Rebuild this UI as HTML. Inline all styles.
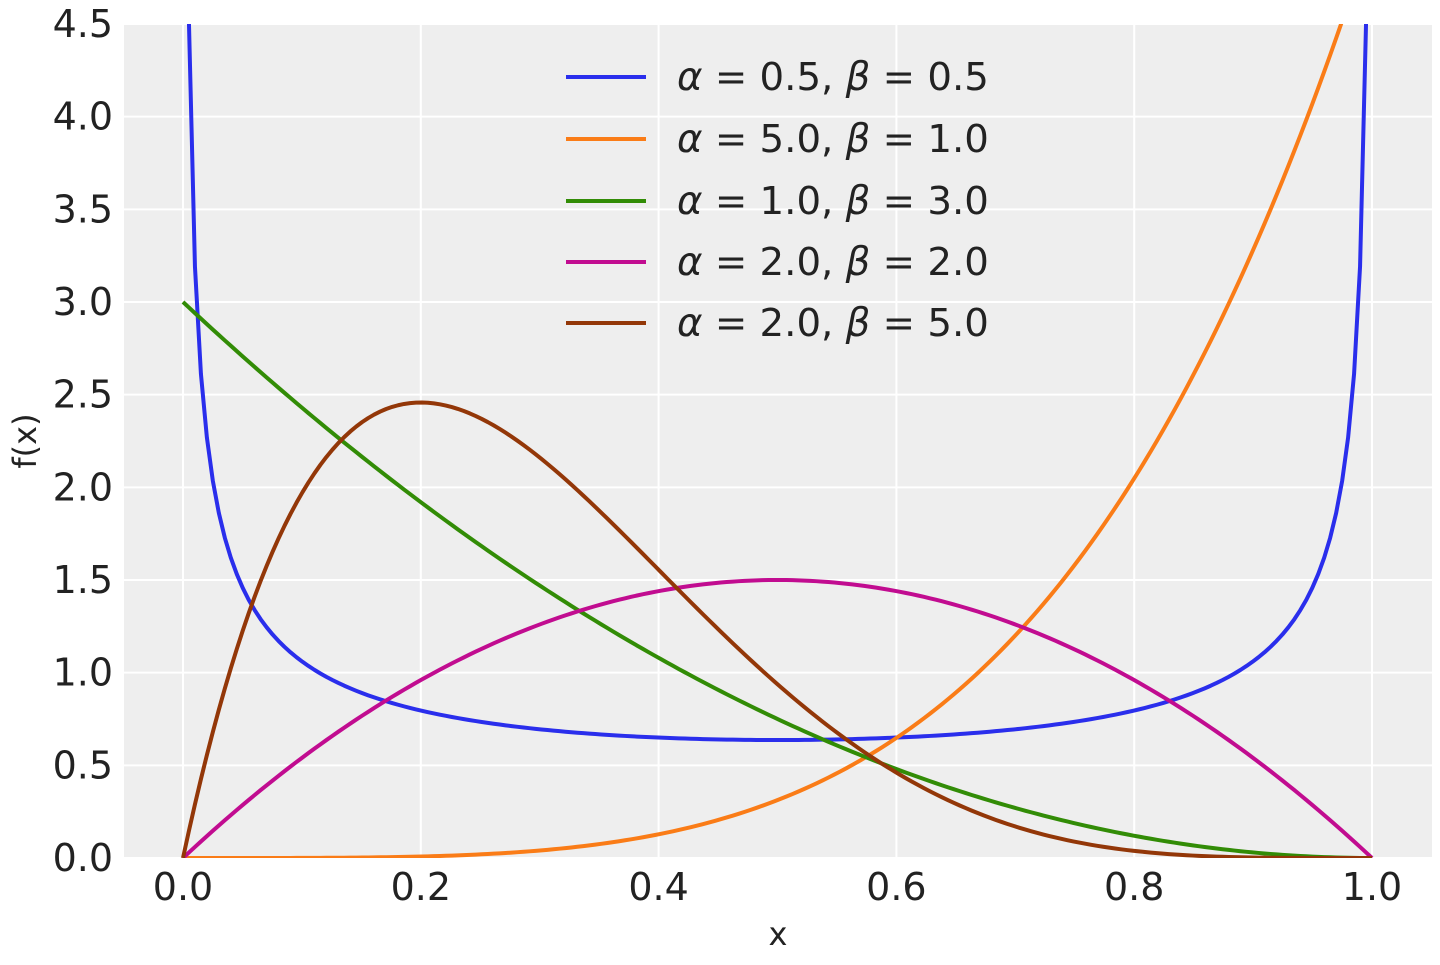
<!DOCTYPE html>
<html><head><meta charset="utf-8"><style>
body{margin:0;background:#fff;width:1440px;height:960px;overflow:hidden;font-family:"Liberation Sans","DejaVu Sans",sans-serif;}
svg text{font-family:"DejaVu Sans","Liberation Sans",sans-serif;fill:#222;}
</style></head><body>
<svg id="s" width="1440" height="960" xmlns="http://www.w3.org/2000/svg">
<defs><clipPath id="c"><rect x="124" y="24" width="1308" height="834"/></clipPath></defs>
<rect x="124" y="24" width="1308" height="834" fill="#eeeeee"/>
<g id="grid" stroke="#fff" stroke-width="2"></g>
<g id="ticks" font-size="38"></g>
<g id="lines" clip-path="url(#c)" fill="none" stroke-width="4" stroke-linejoin="round"></g>
<text x="778" y="945" font-size="32" text-anchor="middle">x</text>
<text transform="translate(36,441) rotate(-90)" font-size="32" text-anchor="middle">f(x)</text>
<g font-size="38.7">
<line x1="566" y1="77" x2="646" y2="77" stroke="#2a2eec" stroke-width="4"/>
<text x="677" y="90"><tspan font-style="italic">α</tspan> = 0.5, <tspan font-style="italic">β</tspan> = 0.5</text>
<line x1="566" y1="139" x2="646" y2="139" stroke="#fa7c17" stroke-width="4"/>
<text x="677" y="152"><tspan font-style="italic">α</tspan> = 5.0, <tspan font-style="italic">β</tspan> = 1.0</text>
<line x1="566" y1="201" x2="646" y2="201" stroke="#328c06" stroke-width="4"/>
<text x="677" y="214"><tspan font-style="italic">α</tspan> = 1.0, <tspan font-style="italic">β</tspan> = 3.0</text>
<line x1="566" y1="262" x2="646" y2="262" stroke="#c10c90" stroke-width="4"/>
<text x="677" y="275"><tspan font-style="italic">α</tspan> = 2.0, <tspan font-style="italic">β</tspan> = 2.0</text>
<line x1="566" y1="323" x2="646" y2="323" stroke="#933708" stroke-width="4"/>
<text x="677" y="336"><tspan font-style="italic">α</tspan> = 2.0, <tspan font-style="italic">β</tspan> = 5.0</text>
</g>
</svg>
<script>
var NS="http://www.w3.org/2000/svg";
function X(v){return 183+v*1189;}
function Y(v){return 858-v*(834/4.5);}
function el(t,a,p,txt){var e=document.createElementNS(NS,t);for(var k in a)e.setAttribute(k,a[k]);if(txt)e.textContent=txt;document.getElementById(p).appendChild(e);}
for(var i=0;i<=5;i++){var v=i*0.2,x=X(v);el("line",{x1:x,x2:x,y1:24,y2:858},"grid");el("text",{x:x,y:900,"text-anchor":"middle"},"ticks",v.toFixed(1));}
for(var i=0;i<=9;i++){var v=i*0.5,y=Y(v);el("line",{x1:124,x2:1432,y1:y,y2:y},"grid");el("text",{x:113,y:y+13,"text-anchor":"end"},"ticks",v.toFixed(1));}
var S=[[0.5,0.5,Math.PI,"#2a2eec"],[5,1,0.2,"#fa7c17"],[1,3,1/3,"#328c06"],[2,2,1/6,"#c10c90"],[2,5,1/30,"#933708"]];
S.forEach(function(s){var d="",n=200;for(var i=0;i<n;i++){var x=i/(n-1);var f=Math.pow(x,s[0]-1)*Math.pow(1-x,s[1]-1)/s[2];if(!isFinite(f))continue;f=Math.min(f,50);d+=(d?"L":"M")+X(x).toFixed(2)+","+Y(f).toFixed(2);}el("path",{d:d,stroke:s[3]},"lines");});
</script>
</body></html>
